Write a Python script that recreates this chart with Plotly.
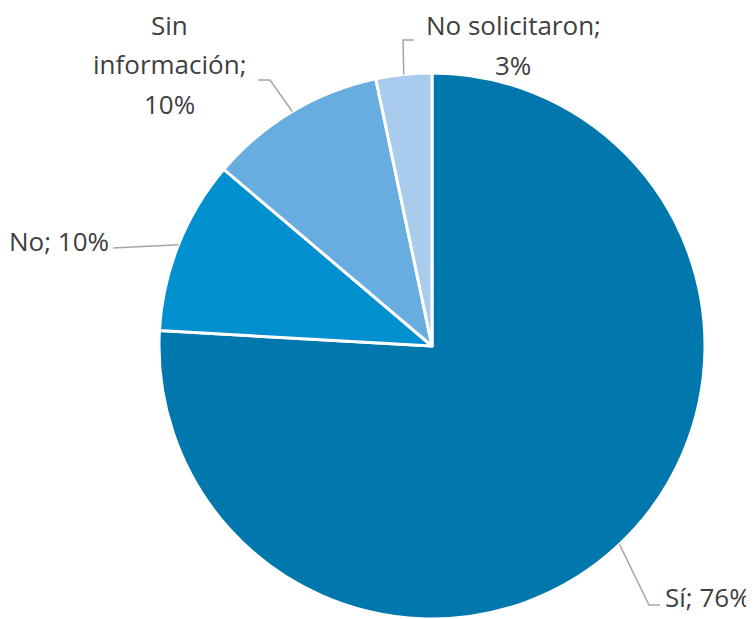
import numpy as np
import plotly.graph_objects as go

# data
labels = ["Sí", "No", "Sin información", "No solicitaron"]
values = [75.9, 10.3, 10.5, 3.3]
pct_labels = ["76%", "10%", "10%", "3%"]
colors = ["#0077AD", "#008FCF", "#67ADE0", "#A9CCEC"]

# the page puts the figure 8px in from the top-left corner
OFF = 8
W, H = 754 - OFF, 619 - OFF
CX, CY, R = 432, 346, 273  # pie centre / radius in page pixels

TEXT = "#404040"
LINE = "#A6A6A6"
FONT = "Open Sans"
FS = 26


def px(x, y):
    return (x - OFF) / W, 1 - (y - OFF) / H


x0, y1 = px(CX - R, CY - R)
x1, y0 = px(CX + R, CY + R)

fig = go.Figure()
fig.add_trace(
    go.Pie(
        labels=labels,
        values=values,
        sort=False,
        direction="clockwise",
        rotation=0,
        textinfo="none",
        hoverinfo="label+percent",
        marker=dict(colors=colors, line=dict(color="white", width=3)),
        domain=dict(x=[x0, x1], y=[max(y0, 0), y1]),
        showlegend=False,
    )
)

# slice mid-angles (clockwise from 12 o'clock)
fr = np.array(values) / sum(values)
ends = np.cumsum(fr) * 360
mids = ends - fr * 180


def edge(i):
    a = np.radians(mids[i])
    return CX + R * np.sin(a), CY - R * np.cos(a)


# leader lines: edge point -> elbow -> label end
elbows = [
    [(649, 605), (660, 605)],
    [(113, 248)],
    [(270, 80), (258, 80)],
    [(403, 40), (414, 40)],
]
for i, pts in enumerate(elbows):
    pts = [edge(i)] + pts
    path = "M " + " L ".join(f"{px(x, y)[0]},{px(x, y)[1]}" for x, y in pts)
    fig.add_shape(type="path", path=path, xref="paper", yref="paper",
                  line=dict(color=LINE, width=1.5))

# labels (one annotation per text line)
label_lines = [
    ([f"{labels[0]}; {pct_labels[0]}"], 663, [597], "left"),
    ([f"{labels[1]}; {pct_labels[1]}"], 111, [241], "right"),
    (["Sin", "información;", pct_labels[2]], 169, [25, 64, 104], "center"),
    (["No solicitaron;", pct_labels[3]], 513, [25, 65], "center"),
]
for lines, x, ys, anchor in label_lines:
    for t, y in zip(lines, ys):
        ax, ay = px(x, y)
        fig.add_annotation(
            x=ax, y=ay, xref="paper", yref="paper", text=t, showarrow=False,
            xanchor=anchor, yanchor="middle",
            font=dict(family=FONT, size=FS, color=TEXT),
        )

fig.update_layout(
    width=W,
    height=H,
    margin=dict(l=0, r=0, t=0, b=0),
    paper_bgcolor="white",
    plot_bgcolor="white",
)

fig.write_html("out.html")
